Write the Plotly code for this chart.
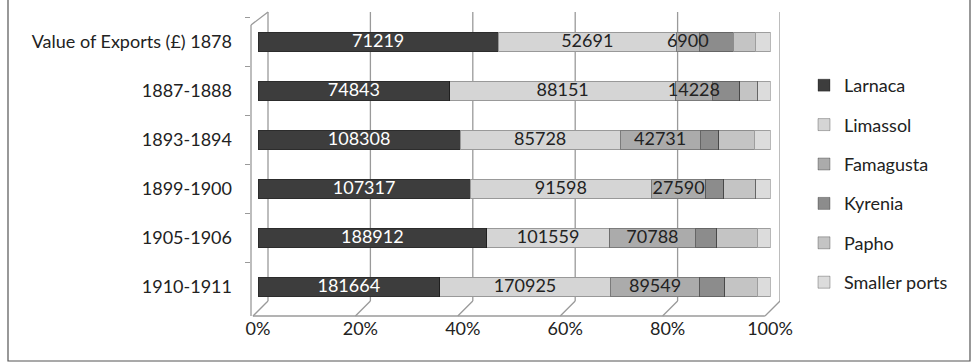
import plotly.graph_objects as go

categories = ["Value of Exports (£) 1878", "1887-1888", "1893-1894",
              "1899-1900", "1905-1906", "1910-1911"]
larnaca = [71219, 74843, 108308, 107317, 188912, 181664]
limassol = [52691, 88151, 85728, 91598, 101559, 170925]
famagusta = [6900, 14228, 42731, 27590, 70788, 89549]
kyrenia = [10000, 10800, 10100, 9100, 17750, 25100]
papho = [6500, 7000, 19000, 16000, 33400, 32300]
smaller_ports = [4400, 4800, 8400, 7300, 10600, 12800]
x_ticks = [0, 20, 40, 60, 80, 100]
x_tick_labels = ["0%", "20%", "40%", "60%", "80%", "100%"]

series = [
    ("Larnaca", larnaca, "#3d3d3d", True, "white"),
    ("Limassol", limassol, "#d5d5d5", True, "#222222"),
    ("Famagusta", famagusta, "#ababab", True, "#222222"),
    ("Kyrenia", kyrenia, "#8c8c8c", False, "#222222"),
    ("Papho", papho, "#c4c4c4", False, "#222222"),
    ("Smaller ports", smaller_ports, "#dcdcdc", False, "#222222"),
]

FONT = "Lato, 'Open Sans', sans-serif"
fig = go.Figure()
for name, vals, color, labelled, tcolor in series:
    fig.add_trace(go.Bar(
        y=categories, x=vals, name=name, orientation="h",
        marker=dict(color=color, line=dict(color="rgba(0,0,0,0.28)", width=1)),
        legendgroup=name,
        hoverinfo="skip",
    ))

# value labels drawn on top (so neighbouring segments do not hide them)
totals = [sum(s[1][i] for s in series) for i in range(len(categories))]
cum = [0.0] * len(categories)
for name, vals, color, labelled, tcolor in series:
    mids = [100.0 * (cum[i] + vals[i] / 2) / totals[i] for i in range(len(categories))]
    if labelled:
        fig.add_trace(go.Scatter(
            x=mids, y=categories, mode="text", text=[str(v) for v in vals],
            textposition="middle center",
            textfont=dict(family=FONT, size=18, color=tcolor),
            showlegend=False, hoverinfo="skip", cliponaxis=False,
        ))
    cum = [cum[i] + vals[i] for i in range(len(categories))]

# plot area: left 251, right 780, top 12, bottom 316
L, R, T, B = 251, 780, 12, 316
W, H = 976, 362
px_per = 5.12
x_lo = -(258 - L) / px_per
x_hi = 100 + (R - 770) / px_per
y_top = -(42 - T) / 49
y_bot = 5 + (B - 287) / 49

shapes = []
grid_col = "#9a9a9a"
back_y = (B - 301) / (B - T)
for v in x_ticks:
    shapes.append(dict(type="line", xref="x", xsizemode="pixel", xanchor=v,
                       x0=10, x1=10, yref="paper", y0=back_y, y1=1,
                       line=dict(color=grid_col, width=1.3), layer="below"))
    shapes.append(dict(type="line", xref="x", xsizemode="pixel", xanchor=v,
                       x0=10, x1=-5, yref="paper", y0=back_y, y1=0,
                       line=dict(color=grid_col, width=1.3), layer="below"))
# front floor edge
shapes.append(dict(type="line", xref="x", x0=-1, x1=99, yref="paper", y0=0, y1=0,
                   line=dict(color=grid_col, width=1.3), layer="below"))
# left wall front edge
shapes.append(dict(type="line", xref="paper", x0=0, x1=0, yref="paper",
                   y0=0, y1=(B - 25) / (B - T),
                   line=dict(color=grid_col, width=1.3), layer="below"))
shapes.append(dict(type="line", xref="paper", x0=0, x1=17 / (R - L), yref="paper",
                   y0=(B - 25) / (B - T), y1=1,
                   line=dict(color=grid_col, width=1.3), layer="below"))
# outer frame
pw, ph = R - L, B - T
shapes.append(dict(type="rect", xref="paper", yref="paper",
                   x0=(8 - L) / pw, x1=(970 - L) / pw,
                   y0=(B - 361) / ph, y1=(B - (-1)) / ph,
                   line=dict(color="#555555", width=1.2), layer="below"))

fig.update_layout(
    width=W, height=H,
    margin=dict(l=L, r=W - R, t=T, b=H - B),
    barmode="stack", barnorm="percent", bargap=0.61,
    paper_bgcolor="white", plot_bgcolor="white",
    font=dict(family=FONT, size=18, color="#222222"),
    shapes=shapes,
    showlegend=True,
    legend=dict(x=(804 - L) / pw, xanchor="left", y=(B - 67) / ph, yanchor="top",
                traceorder="grouped", tracegroupgap=13,
                font=dict(family=FONT, size=18, color="#222222"),
                bgcolor="rgba(0,0,0,0)"),
    xaxis=dict(range=[x_lo, x_hi], tickvals=x_ticks, ticktext=x_tick_labels,
               showgrid=False, zeroline=False, showline=False, ticks="",
               tickfont=dict(family=FONT, size=18, color="#222222")),
    yaxis=dict(categoryorder="array", categoryarray=categories,
               range=[y_bot, y_top], showgrid=False, zeroline=False,
               showline=False, ticks="outside", tickson="boundaries",
               ticklen=5, tickcolor=grid_col, ticklabelstandoff=18,
               tickfont=dict(family=FONT, size=18, color="#222222")),
)

fig.write_html("out.html")
